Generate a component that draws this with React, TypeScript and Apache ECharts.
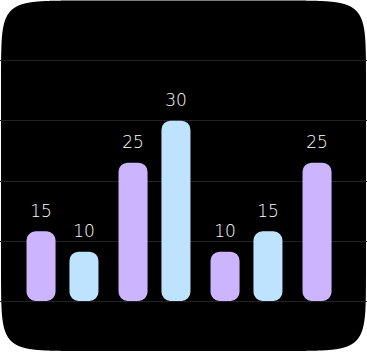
import React, { useEffect, useRef } from "react";
import * as echarts from "echarts";

const categories = ["1", "2", "3", "4"];
// bar heights
const purpleValues: (number | null)[] = [11.6, 23, 8.2, 23];
const blueValues: (number | null)[] = [8.2, 30, 11.6, null];
// numbers printed above the bars
const purpleLabels: (number | null)[] = [15, 25, 10, 25];
const blueLabels: (number | null)[] = [10, 30, 15, null];
const yMin = 0;
const yMax = 40;
const yInterval = 10;

function squirclePoints(x0: number, y0: number, w: number, h: number, n: number, steps: number) {
  const cx = x0 + w / 2;
  const cy = y0 + h / 2;
  const a = w / 2;
  const b = h / 2;
  const pts: number[][] = [];
  for (let i = 0; i < steps; i++) {
    const t = (i / steps) * Math.PI * 2;
    const c = Math.cos(t);
    const s = Math.sin(t);
    pts.push([
      cx + a * Math.sign(c) * Math.pow(Math.abs(c), 2 / n),
      cy + b * Math.sign(s) * Math.pow(Math.abs(s), 2 / n),
    ]);
  }
  return pts;
}

export default function App() {
  const ref = useRef<HTMLDivElement>(null);
  useEffect(() => {
    if (!ref.current) return;
    const chart = echarts.init(ref.current, null, { renderer: "svg" });
    const labelBase = {
      show: true,
      position: "top" as const,
      distance: 12,
      color: "#ffffff",
      fontSize: 17,
      fontFamily: "DejaVu Sans",
      fontWeight: 200 as any,
    };
    chart.setOption({
      animation: false,
      backgroundColor: "#ffffff",
      graphic: [
        {
          type: "polygon",
          z: -100,
          silent: true,
          shape: { points: squirclePoints(1, 0.5, 365, 350.5, 12, 2000) },
          style: { fill: "#000000" },
        },
      ],
      grid: [
        { left: 0, right: 18, top: 60.5, bottom: 51 },
        { left: 16.5, right: 0.5, top: 60.5, bottom: 51 },
      ],
      xAxis: [
        { type: "category", gridIndex: 0, data: categories, show: false },
        { type: "category", gridIndex: 1, data: categories, show: false },
      ],
      yAxis: [
        {
          type: "value",
          gridIndex: 0,
          min: yMin,
          max: yMax,
          interval: yInterval,
          axisLabel: { show: false },
          axisLine: { show: false },
          axisTick: { show: false },
          splitLine: { show: true, lineStyle: { color: "#222222", width: 1 } },
        },
        {
          type: "value",
          gridIndex: 1,
          min: yMin,
          max: yMax,
          interval: yInterval,
          show: false,
        },
      ],
      series: [
        {
          type: "bar",
          xAxisIndex: 1,
          yAxisIndex: 1,
          data: purpleValues,
          barWidth: 29,
          barGap: "48%",
          itemStyle: { color: "#cdb4fe", borderRadius: 9 },
          label: {
            ...labelBase,
            formatter: (p: any) => {
              const v = purpleLabels[p.dataIndex];
              return v == null ? "" : String(v);
            },
          },
        },
        {
          type: "bar",
          xAxisIndex: 1,
          yAxisIndex: 1,
          data: blueValues,
          barWidth: 29,
          barGap: "48%",
          itemStyle: { color: "#bee3fe", borderRadius: 9 },
          label: {
            ...labelBase,
            formatter: (p: any) => {
              const v = blueLabels[p.dataIndex];
              return v == null ? "" : String(v);
            },
          },
        },
      ],
    });
    return () => chart.dispose();
  }, []);
  return (
    <div
      style={{
        position: "fixed",
        left: 0,
        top: 0,
        width: 367,
        height: 352,
        overflow: "hidden",
        background: "#ffffff",
      }}
    >
      <div ref={ref} style={{ width: 385, height: 352 }} />
    </div>
  );
}
